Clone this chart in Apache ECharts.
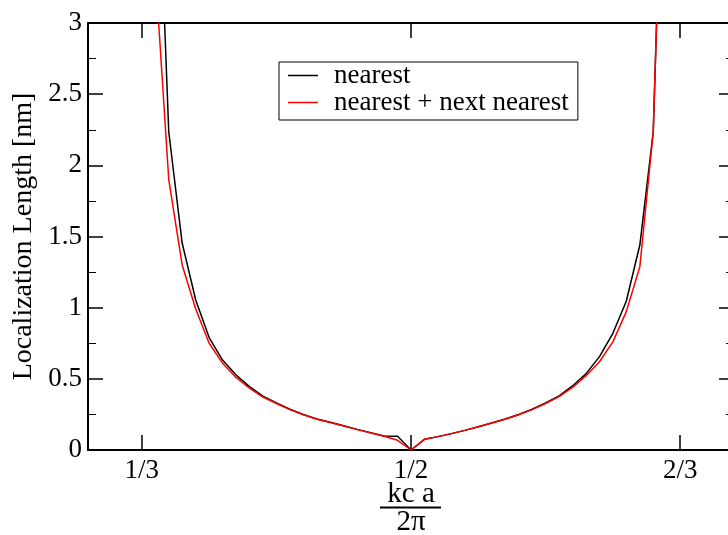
<!DOCTYPE html>
<html>
<head>
<meta charset="utf-8">
<title>Localization Length</title>
<script src="https://cdn.jsdelivr.net/npm/echarts@6/dist/echarts.min.js"></script>
<style>
  html, body { margin: 0; padding: 0; background: #fff; }
  #chart { width: 728px; height: 535px; }
</style>
</head>
<body>
<div id="chart"></div>
<script>
// Wave number kc·a/2π at which the localization length was evaluated
const kca = [
  0.3417, 0.35, 0.3583, 0.3667, 0.375, 0.3833, 0.3917, 0.4, 0.4083, 0.4167,
  0.425, 0.4333, 0.4417, 0.45, 0.4583, 0.4667, 0.475, 0.4833, 0.4917, 0.5,
  0.5083, 0.5167, 0.525, 0.5333, 0.5417, 0.55, 0.5583, 0.5667, 0.575, 0.5833,
  0.5917, 0.6, 0.6083, 0.6167, 0.625, 0.6333, 0.6417, 0.65, 0.6583
];

// Localization length [nm], nearest-neighbour coupling only
const nearest = [
  4.7, 2.236, 1.454, 1.054, 0.79, 0.632, 0.527, 0.445, 0.378, 0.33,
  0.286, 0.25, 0.218, 0.195, 0.17, 0.145, 0.122, 0.098, 0.097, 0,
  0.075, 0.094, 0.115, 0.138, 0.163, 0.19, 0.218, 0.25, 0.286, 0.33,
  0.38, 0.45, 0.535, 0.656, 0.82, 1.045, 1.44, 2.236, 5.3
];

// Localization length [nm], nearest + next-nearest coupling
const nearestNext = [
  3.36, 1.9, 1.3, 0.99, 0.75, 0.61, 0.51, 0.435, 0.372, 0.327,
  0.284, 0.248, 0.216, 0.193, 0.168, 0.143, 0.12, 0.096, 0.068, 0,
  0.075, 0.094, 0.115, 0.138, 0.163, 0.19, 0.216, 0.248, 0.284, 0.327,
  0.375, 0.44, 0.52, 0.62, 0.76, 0.972, 1.288, 2.236, 5.3
];

const seriesNames = ['nearest', 'nearest + next nearest'];
const xTickValues = [1 / 3, 1 / 2, 2 / 3];
const xTickLabels = ['1/3', '1/2', '2/3'];
const xTitleNumerator = 'kc a';
const xTitleDenominator = '2π';

const FONT = '"Liberation Serif", "Times New Roman", serif';
const FS = 27;
const FS_TITLE = 29;

function pairs(xs, ys) {
  return xs.map((x, i) => [x, ys[i]]);
}

function xLabel(v) {
  let best = 0;
  xTickValues.forEach((t, i) => {
    if (Math.abs(t - v) < Math.abs(xTickValues[best] - v)) best = i;
  });
  return xTickLabels[best];
}

const axisLine = { show: true, onZero: false, lineStyle: { color: '#000', width: 2 } };
const tickStyle = { color: '#000', width: 1.5 };

const chart = echarts.init(document.getElementById('chart'), null, { renderer: 'canvas' });

chart.setOption({
  animation: false,
  backgroundColor: '#fff',
  grid: {
    left: 88, top: 23, right: -6, bottom: 85,
    containLabel: false,
    outerBoundsMode: 'none'
  },
  legend: {
    orient: 'vertical',
    left: 279,
    top: 62,
    data: seriesNames,
    icon: 'rect',
    itemWidth: 30,
    itemHeight: 1.5,
    itemGap: 0,
    padding: [0, 9, 4, 9],
    borderColor: '#000',
    borderWidth: 1,
    borderRadius: 0,
    textStyle: {
      fontFamily: FONT, fontSize: FS, color: '#000',
      lineHeight: 26, padding: [0, 0, 0, 11]
    }
  },
  // x-axis title set as a stacked fraction: kc a over 2π
  graphic: [
    {
      type: 'text',
      x: 411, y: 494,
      style: {
        text: xTitleNumerator, font: FS_TITLE + 'px ' + FONT, fill: '#000',
        align: 'center', verticalAlign: 'middle'
      }
    },
    {
      type: 'line',
      shape: { x1: 380, y1: 507.5, x2: 441, y2: 507.5 },
      style: { stroke: '#000', lineWidth: 2 }
    },
    {
      type: 'text',
      x: 411, y: 522,
      style: {
        text: xTitleDenominator, font: FS_TITLE + 'px ' + FONT, fill: '#000',
        align: 'center', verticalAlign: 'middle'
      }
    }
  ],
  xAxis: [
    {
      type: 'value',
      position: 'bottom',
      min: 0.3,
      max: 0.7,
      axisLine: axisLine,
      axisTick: { show: true, inside: true, length: 15, lineStyle: tickStyle, customValues: xTickValues },
      axisLabel: {
        show: true, margin: 7, fontFamily: FONT, fontSize: FS, color: '#000',
        customValues: xTickValues, formatter: xLabel
      },
      splitLine: { show: false }
    },
    {
      type: 'value',
      position: 'top',
      min: 0.3,
      max: 0.7,
      axisLine: axisLine,
      axisTick: { show: true, inside: true, length: 15, lineStyle: tickStyle, customValues: xTickValues },
      axisLabel: { show: false, customValues: xTickValues },
      splitLine: { show: false }
    }
  ],
  yAxis: [
    {
      type: 'value',
      position: 'left',
      min: 0,
      max: 3,
      interval: 0.5,
      name: 'Localization Length [nm]',
      nameLocation: 'middle',
      nameGap: 46,
      nameTextStyle: { fontFamily: FONT, fontSize: 28, color: '#000' },
      axisLine: axisLine,
      axisTick: { show: true, inside: true, length: 15, lineStyle: tickStyle },
      minorTick: { show: true, splitNumber: 2, length: 8, lineStyle: { color: '#000', width: 1 } },
      axisLabel: { show: true, margin: 6, fontFamily: FONT, fontSize: FS, color: '#000' },
      splitLine: { show: false },
      minorSplitLine: { show: false }
    },
    {
      type: 'value',
      position: 'right',
      min: 0,
      max: 3,
      interval: 0.5,
      axisLine: axisLine,
      axisTick: { show: true, inside: true, length: 15, lineStyle: tickStyle },
      minorTick: { show: true, splitNumber: 2, length: 8, lineStyle: { color: '#000', width: 1 } },
      axisLabel: { show: false },
      splitLine: { show: false },
      minorSplitLine: { show: false }
    }
  ],
  series: [
    {
      name: seriesNames[0],
      type: 'line',
      xAxisIndex: 0,
      yAxisIndex: 0,
      data: pairs(kca, nearest),
      symbol: 'none',
      clip: true,
      lineStyle: { color: '#000', width: 1.5 },
      itemStyle: { color: '#000' },
      z: 2
    },
    {
      name: seriesNames[1],
      type: 'line',
      xAxisIndex: 0,
      yAxisIndex: 0,
      data: pairs(kca, nearestNext),
      symbol: 'none',
      clip: true,
      lineStyle: { color: '#ff0000', width: 1.5 },
      itemStyle: { color: '#ff0000' },
      z: 3
    }
  ]
});
</script>
</body>
</html>
